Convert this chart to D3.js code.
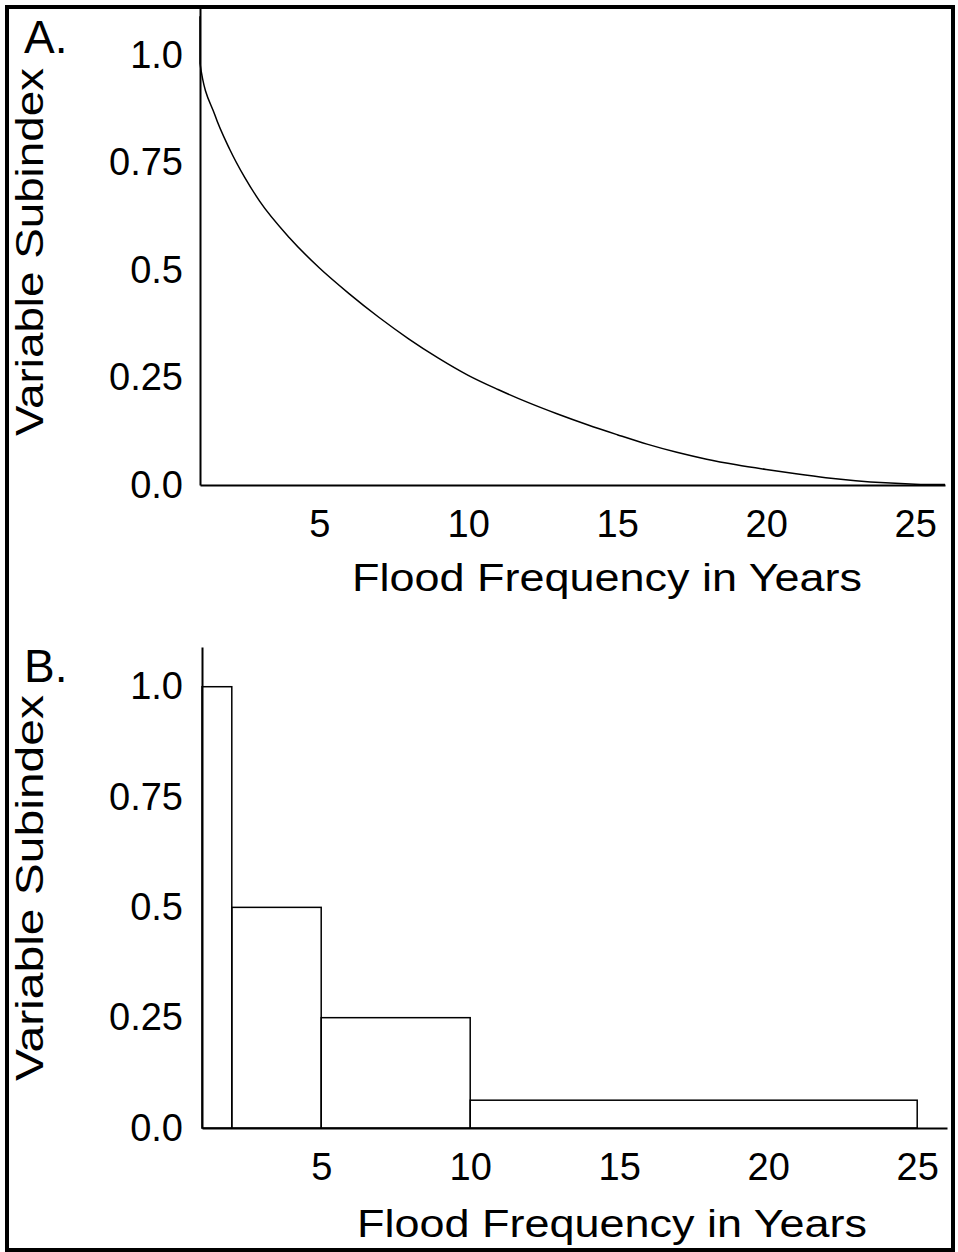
<!DOCTYPE html>
<html>
<meta charset="utf-8" />
<script src="https://d3js.org/d3.v7.min.js"></script>
<body>
<div id="my_dataviz"></div>
<script>
// curve of panel A
var curveYears = [1.0, 1.0, 1.5, 2, 2.5, 3, 4, 5, 6, 7, 8, 9, 10, 11, 12, 13, 14, 15, 16, 17, 18, 19, 20, 21, 22, 23, 24, 25, 26];
var curveIndex = [1.09, 0.98, 0.86, 0.78, 0.715, 0.66, 0.575, 0.505, 0.445, 0.39, 0.34, 0.295, 0.255, 0.222, 0.192, 0.165, 0.14, 0.117, 0.095, 0.076, 0.06, 0.047, 0.036, 0.026, 0.017, 0.01, 0.005, 0.002, 0.001];

// step bars of panel B
var barStart = [1, 2, 5, 10];
var barEnd = [2, 5, 10, 25];
var barIndex = [1.0, 0.5, 0.25, 0.063];

var xTicks = [5, 10, 15, 20, 25];
var yTicks = [0, 0.25, 0.5, 0.75, 1.0];
var yTickLabels = ["0.0", "0.25", "0.5", "0.75", "1.0"];

var W = 958, H = 1252;
var svg = d3.select("#my_dataviz")
  .append("svg")
    .attr("width", W)
    .attr("height", H)
    .style("font-family", "'Liberation Sans', Arial, sans-serif");

// outer frame
svg.append("rect")
  .attr("x", 7).attr("y", 7)
  .attr("width", 946).attr("height", 1243)
  .attr("fill", "none")
  .attr("stroke", "black")
  .attr("stroke-width", 4);

function panel(opt) {
  var x = d3.scaleLinear().domain([1, 26]).range([opt.left, opt.right]);
  var y = d3.scaleLinear().domain([0, opt.ymax]).range([opt.bottom, opt.top]);

  var xa = svg.append("g")
    .attr("transform", "translate(0," + opt.bottom + ")")
    .call(d3.axisBottom(x).tickValues(xTicks).tickSize(0).tickPadding(25));
  var ya = svg.append("g")
    .attr("transform", "translate(" + opt.left + ",0)")
    .call(d3.axisLeft(y).tickValues(yTicks).tickSize(0).tickPadding(opt.ypad)
      .tickFormat(function(d, i) { return yTickLabels[i]; }));
  [xa, ya].forEach(function(a) {
    a.select(".domain").attr("stroke-width", 2);
    a.selectAll("text").attr("font-size", 38).attr("fill", "black")
      .attr("font-family", "'Liberation Sans', Arial, sans-serif");
  });

  svg.append("text")
    .attr("x", opt.titleX).attr("y", opt.titleY)
    .attr("text-anchor", "middle")
    .attr("font-size", 38)
    .attr("textLength", 510)
    .attr("lengthAdjust", "spacingAndGlyphs")
    .text("Flood Frequency in Years");

  svg.append("text")
    .attr("transform", "translate(43," + opt.ylabY + ") rotate(-90)")
    .attr("text-anchor", "middle")
    .attr("font-size", 38)
    .attr("textLength", opt.ylabLen)
    .attr("lengthAdjust", "spacingAndGlyphs")
    .text("Variable Subindex");

  svg.append("text")
    .attr("x", 24).attr("y", opt.letterY)
    .attr("font-size", 46)
    .text(opt.letter);

  return {x: x, y: y};
}

// panel A
var a = panel({left: 200, right: 945, top: 8, bottom: 485, ymax: 1.109, ypad: 17,
  titleX: 607, titleY: 591, ylabY: 252, ylabLen: 368, letter: "A.", letterY: 53});

var pts = curveYears.map(function(d, i) { return [d, curveIndex[i]]; });
svg.append("path")
  .datum(pts)
  .attr("fill", "none")
  .attr("stroke", "black")
  .attr("stroke-width", 1.5)
  .attr("d", d3.line()
    .x(function(d) { return a.x(d[0]); })
    .y(function(d) { return a.y(d[1]); })
    .curve(d3.curveMonotoneX));

// panel B
var b = panel({left: 202, right: 947, top: 647, bottom: 1128, ymax: 1.09, ypad: 19,
  titleX: 612, titleY: 1237, ylabY: 888, ylabLen: 386, letter: "B.", letterY: 682});

svg.append("g").selectAll("rect")
  .data(barIndex)
  .enter()
  .append("rect")
  .attr("x", function(d, i) { return b.x(barStart[i]); })
  .attr("y", function(d) { return b.y(d); })
  .attr("width", function(d, i) { return b.x(barEnd[i]) - b.x(barStart[i]); })
  .attr("height", function(d) { return b.y(0) - b.y(d); })
  .attr("fill", "none")
  .attr("stroke", "black")
  .attr("stroke-width", 1.5);
</script>
</body>
<style>
  body { margin: 0; background: white; }
</style>
</html>
